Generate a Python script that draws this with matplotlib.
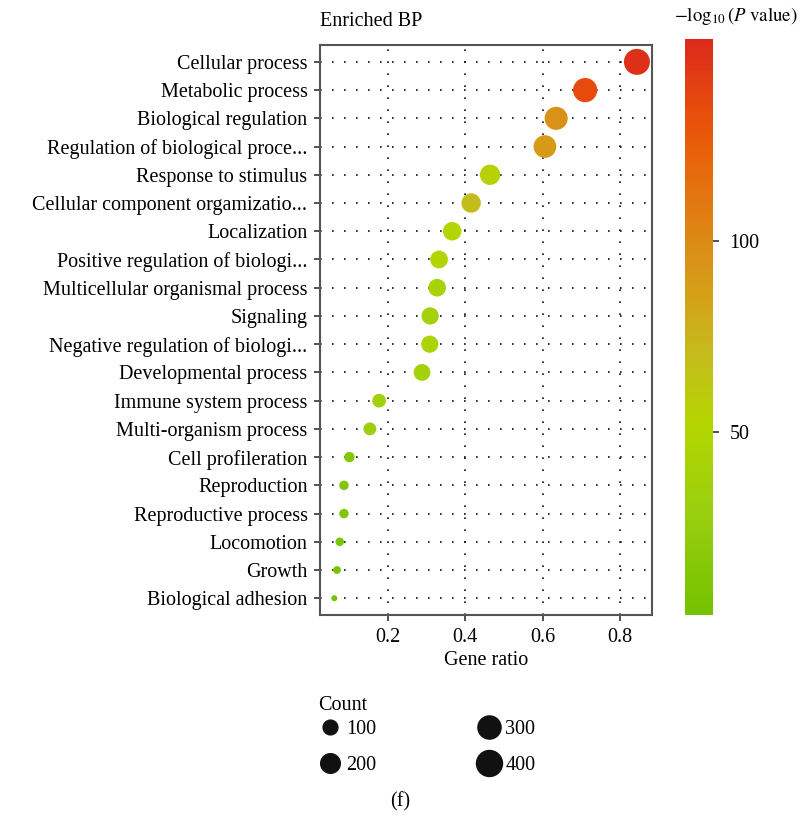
import matplotlib
matplotlib.use("Agg")
import matplotlib.pyplot as plt
import numpy as np
from matplotlib.colors import LinearSegmentedColormap, Normalize
from matplotlib.lines import Line2D

plt.rcParams["font.family"] = ["Liberation Serif", "DejaVu Serif"]
plt.rcParams["mathtext.fontset"] = "stix"

# enriched BP terms, top to bottom
terms = [
    "Cellular process", "Metabolic process", "Biological regulation",
    "Regulation of biological proce...", "Response to stimulus",
    "Cellular component orgamizatio...", "Localization",
    "Positive regulation of biologi...", "Multicellular organismal process",
    "Signaling", "Negative regulation of biologi...", "Developmental process",
    "Immune system process", "Multi-organism process", "Cell profileration",
    "Reproduction", "Reproductive process", "Locomotion", "Growth",
    "Biological adhesion",
]
gene_ratio = [0.844, 0.710, 0.635, 0.606, 0.464, 0.415, 0.366, 0.332, 0.327, 0.309,
              0.308, 0.288, 0.177, 0.153, 0.100, 0.086, 0.086, 0.075, 0.068, 0.061]
count = [397, 334, 298, 285, 218, 195, 172, 156, 154, 145,
         145, 135, 83, 72, 47, 40, 40, 35, 32, 29]
neg_log_p = [150, 135, 95, 90, 56, 70, 52, 50, 40, 38,
             45, 37, 35, 32, 13, 11, 11, 8, 6, 2]
legend_counts = [100, 200, 300, 400]
x_ticks = [0.2, 0.4, 0.6, 0.8]
cbar_ticks = [50, 100]

FS = 14.5

cmap = LinearSegmentedColormap.from_list(
    "gyr",
    [(0.0, "#74c200"), (0.17, "#98ce10"), (0.33, "#b4d600"), (0.45, "#c4bc1c"),
     (0.55, "#d4a218"), (0.65, "#dc8a16"), (0.80, "#e8620a"), (0.88, "#e64c0c"),
     (1.0, "#dc2a1c")])
norm = Normalize(vmin=min(neg_log_p), vmax=153)


# ggplot-like area scaling: diameter grows with sqrt of rescaled count
def diam_px(c, lo=min(count), hi=max(count), dmin=6.0, dmax=26.0):
    v = np.clip((np.asarray(c, float) - lo) / (hi - lo), 0, 1)
    return dmin + (dmax - dmin) * np.sqrt(v)


px2pt = 72 / 100

fig = plt.figure(figsize=(8.0, 8.17), dpi=100)
ax = fig.add_axes([0.40, 0.247, 0.415, 0.698])

ypos = np.arange(len(terms))
ax.scatter(gene_ratio, ypos, s=(diam_px(count) * px2pt) ** 2,
           c=neg_log_p, cmap=cmap, norm=norm, linewidths=0, zorder=3)

ax.set_ylim(len(terms) - 0.4, -0.6)
ax.set_xlim(0.024, 0.883)
ax.set_yticks(ypos)
ax.set_yticklabels(terms, fontsize=FS)
ax.set_xticks(x_ticks)
ax.set_xticklabels([f"{t:.1f}" for t in x_ticks], fontsize=FS)
ax.set_xlabel("Gene ratio", fontsize=FS, labelpad=3)
ax.grid(True, color="#111111", linestyle=(0, (1, 6.2)), linewidth=1.2, zorder=0)
ax.set_axisbelow(True)
for sp in ax.spines.values():
    sp.set_color("#555555")
    sp.set_linewidth(1.5)
ax.tick_params(axis="both", length=4, width=1.2, color="#333333", pad=5)
ax.text(0.0, 1.025, "Enriched BP", transform=ax.transAxes, fontsize=FS,
        ha="left", va="bottom")

# colour bar
cax = fig.add_axes([0.856, 0.247, 0.035, 0.705])
sm = plt.cm.ScalarMappable(norm=norm, cmap=cmap)
cb = fig.colorbar(sm, cax=cax, ticks=cbar_ticks)
cb.outline.set_visible(False)
cb.ax.tick_params(length=4, width=1.2, color="#333333", labelsize=FS, pad=8)
fig.text(0.92, 0.967, r"$-\log_{10}(P\ \mathrm{value})$", fontsize=13.5,
         ha="center", va="bottom")

# size legend
handles = [Line2D([], [], linestyle="none", marker="o", color="#111111",
                  markersize=d * px2pt) for d in diam_px(legend_counts)]
leg = fig.legend(handles, [str(c) for c in legend_counts], ncol=2,
                 loc="upper left", bbox_to_anchor=(0.385, 0.160), frameon=False,
                 title="Count", title_fontsize=FS, fontsize=FS,
                 handletextpad=0.2, columnspacing=5.0, labelspacing=0.85,
                 alignment="left", borderpad=0.0, handlelength=1.2)
leg._legend_box.sep = 3

fig.text(0.50, 0.019, "(f)", fontsize=FS, ha="center", va="center")

fig.savefig("out.png", dpi=100)
